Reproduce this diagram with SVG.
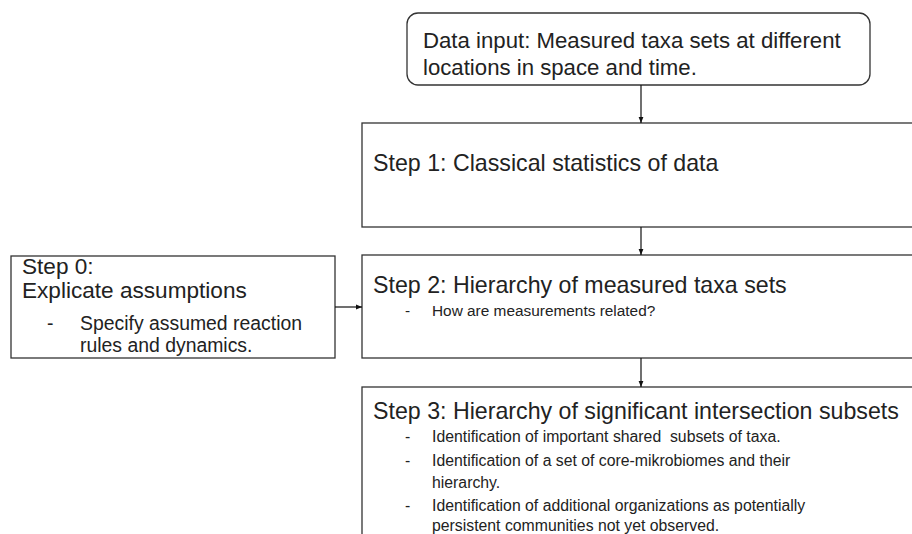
<svg xmlns="http://www.w3.org/2000/svg" width="912" height="534" viewBox="0 0 912 534">
<defs>
<style>
.box{fill:#fff;stroke:#333;stroke-width:1.3}
.t{font-family:"Liberation Sans",Arial,sans-serif;fill:#222}
.big{font-size:23.2px}
.sm{font-size:15.8px}
.conn{stroke:#111;stroke-width:1.2;fill:none}
</style>
<marker id="ah" viewBox="0 0 10 10" refX="10" refY="5" markerWidth="6" markerHeight="6" orient="auto" markerUnits="userSpaceOnUse">
<path d="M0,1 L10,5 L0,9 Z" fill="#111"/>
</marker>
</defs>
<rect width="912" height="534" fill="#fff"/>
<g id="data-input">
<rect class="box" x="407" y="13" width="463" height="72" rx="11"/>
<text class="t" style="font-size:22.2px" x="423" y="48">Data input: Measured taxa sets at different</text>
<text class="t" style="font-size:22.2px" x="423" y="75">locations in space and time.</text>
</g>
<g id="step1">
<rect class="box" x="362" y="123" width="560" height="104"/>
<text class="t big" x="373" y="171">Step 1: Classical statistics of data</text>
</g>
<g id="step2">
<rect class="box" x="362" y="255" width="560" height="103"/>
<text class="t big" x="373" y="293">Step 2: Hierarchy of measured taxa sets</text>
<text class="t" style="font-size:15.4px" x="405" y="316">-</text>
<text class="t" style="font-size:15.4px" x="432" y="316">How are measurements related?</text>
</g>
<g id="step0">
<rect class="box" x="11" y="256" width="324" height="102"/>
<text class="t" style="font-size:22.6px" x="22" y="274">Step 0:</text>
<text class="t" style="font-size:22.6px" x="22" y="298">Explicate assumptions</text>
<text class="t" style="font-size:19.4px" x="47" y="330">-</text>
<text class="t" style="font-size:19.4px" x="80" y="330">Specify assumed reaction</text>
<text class="t" style="font-size:19.4px" x="80" y="352">rules and dynamics.</text>
</g>
<g id="step3">
<rect class="box" x="362" y="387" width="560" height="160"/>
<text class="t big" x="373" y="419">Step 3: Hierarchy of significant intersection subsets</text>
<text class="t sm" x="405" y="442">-</text>
<text class="t sm" x="432" y="442">Identification of important shared&#160; subsets of taxa.</text>
<text class="t sm" x="405" y="466">-</text>
<text class="t sm" x="432" y="466">Identification of a set of core-mikrobiomes and their</text>
<text class="t sm" x="432" y="488">hierarchy.</text>
<text class="t sm" x="405" y="511">-</text>
<text class="t sm" x="432" y="511">Identification of additional organizations as potentially</text>
<text class="t sm" x="432" y="531">persistent communities not yet observed.</text>
</g>
<g id="connectors">
<line class="conn" x1="641" y1="85" x2="641" y2="123" marker-end="url(#ah)"/>
<line class="conn" x1="641" y1="227" x2="641" y2="255" marker-end="url(#ah)"/>
<line class="conn" x1="641" y1="358" x2="641" y2="387" marker-end="url(#ah)"/>
<line class="conn" x1="335" y1="307" x2="362" y2="307" marker-end="url(#ah)"/>
</g>
</svg>
